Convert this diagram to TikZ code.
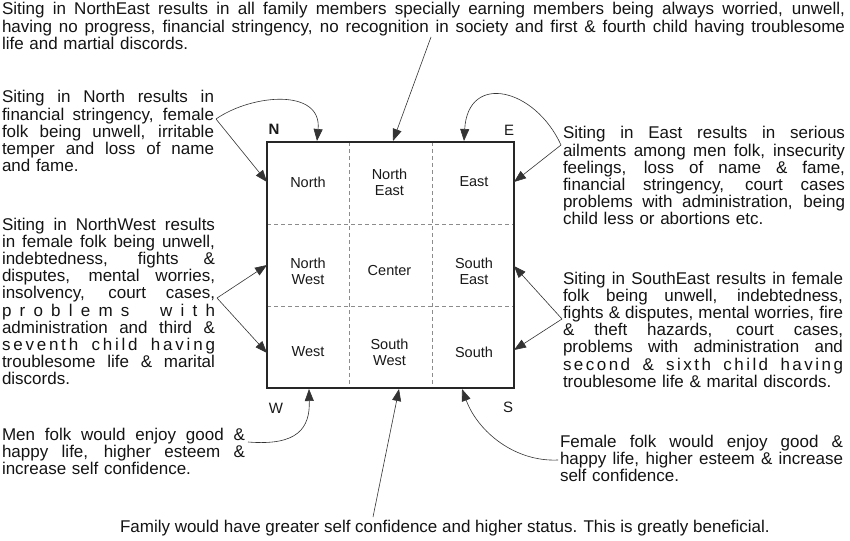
\documentclass[tikz,border=0pt]{standalone}
\usepackage{fontspec}
\setmainfont{Liberation Sans}
\usepackage{graphicx}
\usetikzlibrary{arrows.meta}
\newlength\jlw
\newcommand\jl[1]{{\spaceskip=0pt\xspaceskip=0pt\settowidth\jlw{#1}\ifdim\jlw>\linewidth\resizebox{\linewidth}{\height}{#1}\else\makebox[\linewidth][s]{#1}\fi}}
\newcommand\wg{\hspace{5pt plus 3fil}}
\begin{document}
\begin{tikzpicture}[x=1pt,y=-1pt,
  txt/.style={inner sep=0pt, outer sep=0pt, align=left, anchor=base west, text=black!92,
              font=\fontsize{17}{17.2}\selectfont},
  cell/.style={inner sep=0pt, align=center, text=black!90, font=\fontsize{14.5}{16}\selectfont},
  dirlab/.style={inner sep=0pt, text=black!90, font=\fontsize{15}{16}\selectfont},
  griddash/.style={draw=black!45, line width=0.9pt, dash pattern=on 4pt off 3pt},
  conn/.style={draw=black!80, line width=0.6pt, -{Triangle[length=12pt,width=9pt]}},
]
\useasboundingbox (0,0) rectangle (850,540);
\fill[white] (0,0) rectangle (850,540);

% ---------------- square and grid ----------------
\draw[griddash] (349.5,142) -- (349.5,388);
\draw[griddash] (432,142) -- (432,388);
\draw[griddash] (267,224) -- (514,224);
\draw[griddash] (267,306) -- (514,306);
\node[draw=black!85, line width=2.2pt, minimum width=247pt, minimum height=246pt,
      inner sep=0pt, outer sep=0pt, anchor=north west] (sq) at (267,142) {};

\node[cell] (cN)  at (308,182)   {North};
\node[cell] (cNE) at (389.5,182) {North\\East};
\node[cell] (cE)  at (474,182)   {East};
\node[cell] (cNW) at (308,271)   {North\\West};
\node[cell] (cC)  at (389.5,271) {Center};
\node[cell] (cSE) at (474,271)   {South\\East};
\node[cell] (cW)  at (308,352)   {West};
\node[cell] (cSW) at (389.5,352) {South\\West};
\node[cell] (cS)  at (474,352)   {South};

\node[dirlab, font=\fontsize{15}{16}\selectfont\bfseries] (lN) at (274,129) {N};
\node[dirlab] (lE) at (509,130) {E};
\node[dirlab] (lW) at (276,408) {W};
\node[dirlab] (lS) at (508,407) {S};

% ---------------- text blocks ----------------
\node[txt, text width=843pt] (tNE) at (2,15) {%
\jl{Siting in NorthEast results in all family members specially earning members being always worried, unwell,}\\
\jl{having no progress, financial stringency, no recognition in society and first \& fourth child having troublesome}\\
life and martial discords.};

\node[txt, text width=212pt] (tN) at (2,103) {%
\jl{Siting in North results in}\\
\jl{financial stringency, female}\\
\jl{folk being unwell, irritable}\\
\jl{temper and loss of name}\\
and fame.};

\node[txt, text width=213pt] (tNW) at (2,230) {%
\jl{Siting in NorthWest results}\\
\jl{in female folk being unwell,}\\
\jl{indebtedness, fights \&}\\
\jl{disputes, mental worries,}\\
\jl{insolvency, court cases,}\\
\makebox[\linewidth][s]{p\hfil r\hfil o\hfil b\hfil l\hfil e\hfil m\hfil s\hspace{6pt plus 3fil}w\hfil i\hfil t\hfil h}\\
\jl{administration and third \&}\\
\makebox[\linewidth][s]{s\hfil e\hfil v\hfil e\hfil n\hfil t\hfil h\wg c\hfil h\hfil i\hfil l\hfil d\wg h\hfil a\hfil v\hfil i\hfil n\hfil g}\\
\jl{troublesome life \& marital}\\
discords.};

\node[txt, text width=243pt] (tMen) at (2,440) {%
\jl{Men folk would enjoy good \&}\\
\jl{happy life, higher esteem \&}\\
increase self confidence.};

\node[txt, text width=282pt] (tE) at (563,139) {%
\jl{Siting in East results in serious}\\
\jl{ailments among men folk, insecurity}\\
\jl{feelings, loss of name \& fame,}\\
\jl{financial stringency, court cases}\\
\jl{problems with administration, being}\\
child less or abortions etc.};

\node[txt, text width=280pt] (tSE) at (563,284) {%
\jl{Siting in SouthEast results in female}\\
\jl{folk being unwell, indebtedness,}\\
\jl{fights \& disputes, mental worries, fire}\\
\jl{\& theft hazards, court cases,}\\
\jl{problems with administration and}\\
\makebox[\linewidth][s]{s\hfil e\hfil c\hfil o\hfil n\hfil d\wg \&\wg s\hfil i\hfil x\hfil t\hfil h\wg c\hfil h\hfil i\hfil l\hfil d\wg h\hfil a\hfil v\hfil i\hfil n\hfil g}\\
troublesome life \& marital discords.};

\node[txt, text width=283pt] (tFem) at (560,447) {%
\jl{Female folk would enjoy good \&}\\
\jl{happy life, higher esteem \& increase}\\
self confidence.};

\node[txt] (tC) at (120,532) {Family would have greater self confidence and higher status. This is greatly beneficial.};

% ---------------- connector ends ----------------
\coordinate (jNE) at (431,37);
\coordinate (aNE) at (393,141);
\coordinate (jN) at (216,119);
\coordinate (aN1) at (317,141);
\coordinate (aN2) at (267,182);
\coordinate (jE) at (561,145);
\coordinate (aE1) at (464,141);
\coordinate (aE2) at (514,182);
\coordinate (jNW) at (217,298);
\coordinate (aNW1) at (267,265);
\coordinate (aNW2) at (267,353);
\coordinate (jSE) at (562,319);
\coordinate (aSE1) at (514,266);
\coordinate (aSE2) at (514,350);
\coordinate (jMen) at (248,442);
\coordinate (aMen) at (309,389);
\coordinate (jC) at (373,517);
\coordinate (aC) at (399,389);
\coordinate (jFem) at (558,460);
\coordinate (aFem) at (462,389);

% ---------------- connectors ----------------
\draw[conn] (jNE) -- (aNE);
\draw[conn] (jN) .. controls (252,94) and (322,88) .. (aN1);
\draw[conn] (jN) -- (aN2);
\draw[conn] (jE) .. controls (535,88) and (468,72) .. (aE1);
\draw[conn] (jE) -- (aE2);
\draw[conn] (jNW) -- (aNW1);
\draw[conn] (jNW) -- (aNW2);
\draw[conn] (jSE) -- (aSE1);
\draw[conn] (jSE) -- (aSE2);
\draw[conn] (jMen) .. controls (298,446) and (310,428) .. (aMen);
\draw[conn] (jC) -- (aC);
\draw[conn] (jFem) .. controls (515,462) and (478,432) .. (aFem);
\end{tikzpicture}
\end{document}
